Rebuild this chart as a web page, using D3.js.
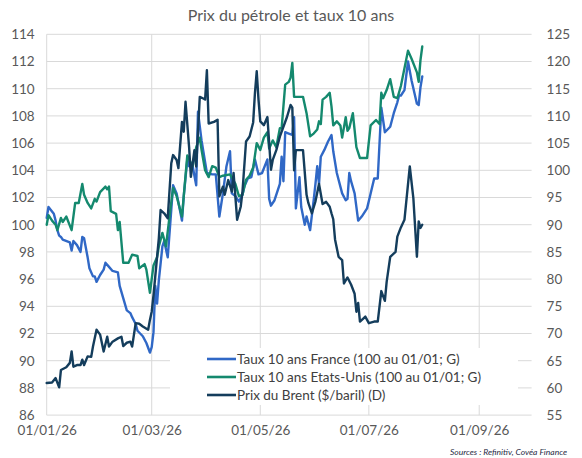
<!DOCTYPE html>
<html>
<head>
<meta charset="utf-8">
<script src="https://cdn.jsdelivr.net/npm/d3@7"></script>
<style>
  body { margin: 0; background: #fff; }
  svg { display: block; font-family: Lato, "Open Sans", sans-serif; }
</style>
</head>
<body>
<svg id="chart" width="582" height="458"></svg>
<script>
// ---- data (dd/mm, 2026) ----
var france = [
  ["01/01",100.5],["02/01",101.3],["05/01",100.8],["06/01",100.3],["07/01",99.6],["08/01",99.2],
  ["09/01",99.1],["10/01",98.9],["14/01",98.7],["15/01",98.1],["16/01",98.8],["18/01",98.5],
  ["20/01",98.0],["21/01",99.1],["22/01",99.0],["24/01",97.6],["25/01",96.8],["27/01",96.2],
  ["28/01",96.2],["29/01",95.8],["31/01",96.3],["02/02",96.7],["03/02",97.2],["05/02",96.9],
  ["07/02",96.6],["10/02",96.5],["11/02",95.5],["13/02",94.6],["15/02",93.7],["17/02",93.5],
  ["18/02",93.2],["20/02",92.7],["21/02",92.2],["24/02",91.8],["26/02",91.3],["28/02",90.6],
  ["01/03",91.0],["02/03",92.1],["03/03",95.5],["04/03",94.2],["05/03",95.9],["07/03",98.4],
  ["08/03",98.8],["10/03",97.6],["12/03",101.1],["13/03",102.9],["15/03",102.3],["18/03",100.3],
  ["19/03",102.1],["21/03",104.8],["22/03",104.3],["24/03",104.3],["26/03",102.9],["27/03",108.3],
  ["29/03",106.2],["01/04",103.8],["04/04",103.7],["06/04",103.7],["08/04",100.6],["10/04",102.3],
  ["12/04",104.3],["14/04",105.4],["15/04",102.3],["17/04",102.1],["19/04",101.7],["21/04",102.2],
  ["22/04",102.8],["24/04",103.4],["26/04",103.5],["28/04",104.8],["30/04",103.7],["02/05",103.8],
  ["05/05",104.8],["06/05",101.9],["07/05",101.4],["09/05",101.8],["12/05",103.0],["13/05",105.0],
  ["14/05",103.2],["15/05",106.8],["17/05",106.7],["19/05",106.6],["20/05",107.9],["21/05",101.2],
  ["23/05",103.5],["24/05",101.3],["26/05",100.0],["27/05",100.6],["29/05",99.6],["31/05",101.8],
  ["01/06",103.0],["02/06",104.3],["03/06",103.0],["04/06",105.0],["06/06",105.5],["08/06",106.1],
  ["10/06",106.6],["11/06",105.4],["13/06",103.8],["16/06",102.3],["18/06",101.8],["19/06",101.9],
  ["20/06",103.8],["21/06",103.2],["23/06",102.3],["25/06",100.3],["27/06",100.6],["30/06",101.2],
  ["02/07",102.3],["04/07",103.4],["06/07",103.4],["08/07",108.6],["10/07",106.8],["13/07",107.2],
  ["15/07",108.2],["17/07",109.0],["18/07",109.5],["19/07",109.5],["21/07",109.9],["23/07",112.0],
  ["25/07",110.6],["28/07",108.9],["29/07",108.8],["30/07",110.1],["31/07",110.9]
];

var etatsUnis = [
  ["01/01",100.0],["02/01",100.7],["04/01",100.3],["06/01",100.0],["07/01",99.6],["09/01",100.5],
  ["10/01",100.2],["12/01",100.6],["15/01",99.6],["17/01",101.6],["19/01",101.6],["21/01",103.0],
  ["22/01",102.2],["24/01",101.6],["26/01",101.2],["28/01",101.9],["29/01",101.7],["31/01",102.4],
  ["03/02",102.8],["04/02",102.6],["05/02",102.8],["06/02",101.0],["09/02",100.8],["10/02",99.6],
  ["11/02",100.2],["13/02",97.2],["16/02",97.2],["18/02",97.8],["21/02",97.7],["22/02",96.8],
  ["25/02",97.1],["26/02",96.7],["28/02",95.0],["02/03",97.0],["04/03",97.6],["05/03",98.4],
  ["07/03",99.4],["08/03",98.9],["09/03",98.4],["11/03",100.6],["13/03",102.7],["15/03",102.1],
  ["18/03",100.6],["19/03",102.1],["21/03",105.1],["22/03",104.8],["24/03",104.3],["26/03",105.7],
  ["28/03",106.4],["29/03",105.5],["31/03",104.0],["02/04",103.5],["04/04",104.3],["06/04",104.2],
  ["08/04",103.5],["10/04",103.6],["14/04",103.7],["17/04",103.0],["19/04",102.1],["21/04",102.2],
  ["23/04",103.3],["25/04",103.6],["27/04",104.2],["29/04",106.0],["01/05",105.5],["03/05",106.4],
  ["05/05",106.8],["06/05",105.6],["08/05",106.2],["10/05",105.7],["12/05",107.1],["13/05",107.1],
  ["15/05",110.3],["17/05",110.5],["18/05",110.8],["19/05",111.9],["20/05",109.4],["22/05",109.4],
  ["25/05",109.4],["27/05",108.2],["29/05",106.5],["31/05",106.7],["02/06",107.0],["03/06",107.6],
  ["04/06",107.4],["05/06",109.2],["07/06",109.4],["09/06",109.7],["10/06",108.7],["11/06",107.3],
  ["13/06",107.6],["15/06",107.3],["16/06",106.4],["18/06",107.9],["19/06",106.9],["20/06",107.1],
  ["22/06",108.2],["24/06",105.7],["26/06",104.9],["30/06",104.9],["02/07",107.3],["05/07",107.7],
  ["07/07",107.4],["08/07",109.7],["09/07",109.3],["11/07",109.9],["13/07",110.7],["15/07",109.4],
  ["17/07",109.3],["19/07",110.2],["23/07",112.8],["25/07",112.2],["28/07",111.2],["29/07",110.5],
  ["30/07",112.1],["31/07",113.1]
];

var brent = [
  ["01/01",60.9],["04/01",61.0],["06/01",61.8],["08/01",60.1],["09/01",63.3],["12/01",63.8],
  ["14/01",64.6],["15/01",66.7],["16/01",63.9],["18/01",64.2],["20/01",64.2],["21/01",65.2],
  ["22/01",64.2],["24/01",65.8],["26/01",65.7],["27/01",67.6],["29/01",70.7],["31/01",69.8],
  ["02/02",66.7],["04/02",69.4],["05/02",67.6],["07/02",68.5],["10/02",69.1],["12/02",69.4],
  ["13/02",67.7],["15/02",68.3],["17/02",68.5],["18/02",67.6],["20/02",71.9],["22/02",71.8],
  ["24/02",71.3],["27/02",70.7],["28/02",72.5],["01/03",74.0],["02/03",77.0],["03/03",80.5],
  ["04/03",84.0],["05/03",87.5],["06/03",92.7],["08/03",92.1],["10/03",91.2],["12/03",101.3],
  ["13/03",102.8],["15/03",101.9],["16/03",100.4],["18/03",108.9],["19/03",107.1],["20/03",112.6],
  ["22/03",104.3],["23/03",98.8],["25/03",103.7],["26/03",100.7],["28/03",113.5],["30/03",113.2],
  ["31/03",113.0],["01/04",118.4],["02/04",108.6],["05/04",108.9],["07/04",109.3],["08/04",95.2],
  ["10/04",97.0],["11/04",95.5],["13/04",98.2],["15/04",96.1],["16/04",99.5],["18/04",90.9],
  ["20/04",93.3],["21/04",96.1],["23/04",105.3],["25/04",106.2],["27/04",108.8],["28/04",114.2],
  ["29/04",118.2],["30/04",113.0],["01/05",109.0],["03/05",108.3],["05/05",109.8],["06/05",105.0],
  ["07/05",100.1],["08/05",101.9],["10/05",103.7],["12/05",106.2],["14/05",108.0],["16/05",109.8],
  ["18/05",112.0],["19/05",111.5],["20/05",100.0],["21/05",103.7],["25/05",103.7],["27/05",95.5],
  ["28/05",94.0],["30/05",92.1],["01/06",94.3],["03/06",97.5],["05/06",93.8],["07/06",94.2],
  ["09/06",93.3],["10/06",92.1],["11/06",91.0],["12/06",87.3],["14/06",84.1],["16/06",83.5],
  ["17/06",79.2],["19/06",80.3],["21/06",79.0],["23/06",77.3],["24/06",74.0],["25/06",75.6],
  ["26/06",72.2],["28/06",72.8],["29/06",73.1],["01/07",71.9],["04/07",72.2],["06/07",72.2],
  ["08/07",77.8],["10/07",76.0],["11/07",79.5],["13/07",84.1],["16/07",85.0],["17/07",87.8],
  ["19/07",89.5],["21/07",90.9],["24/07",100.7],["26/07",94.9],["28/07",84.1],["29/07",90.6],
  ["30/07",89.4],["31/07",90.0]
];

var leftTicks = d3.range(86, 115, 2);
var rightTicks = d3.range(55, 126, 5);
var xTickDates = ["01/01","01/03","01/05","01/07","01/09"];
var legendLabels = [
  "Taux 10 ans France (100 au 01/01; G)",
  "Taux 10 ans Etats-Unis (100 au 01/01; G)",
  "Prix du Brent ($/baril) (D)"
];

// ---- rendering ----
var parseDay = (s) => d3.timeParse("%d/%m/%Y")(s + "/2026"),
    svg = d3.select("#chart"),
    plotLeft = 46.7, plotRight = 532.6, plotTop = 34.3, plotBottom = 415.1,
    textColor = "#595959",
    gridColor = "#d9d9d9",
    colors = ["#3068c6", "#14896e", "#143d5c"];

var x = d3.scaleTime()
        .domain([parseDay("01/01"), parseDay("01/10")])
        .range([plotLeft, plotRight]),
    yLeft = d3.scaleLinear().domain([86, 114]).range([plotBottom, plotTop]),
    yRight = d3.scaleLinear().domain([55, 125]).range([plotBottom, plotTop]);

// title
svg.append("text")
    .attr("x", 291)
    .attr("y", 21)
    .attr("text-anchor", "middle")
    .attr("font-size", 16)
    .attr("fill", textColor)
    .text("Prix du pétrole et taux 10 ans");

// horizontal grid
svg.append("g")
    .selectAll("line")
    .data(leftTicks)
    .enter()
    .append("line")
    .attr("x1", plotLeft)
    .attr("x2", plotRight - 1)
    .attr("y1", (d) => yLeft(d))
    .attr("y2", (d) => yLeft(d))
    .attr("stroke", gridColor)
    .attr("stroke-width", 1);

// vertical grid
svg.append("g")
    .selectAll("line")
    .data(xTickDates.map(parseDay))
    .enter()
    .append("line")
    .attr("x1", (d) => x(d))
    .attr("x2", (d) => x(d))
    .attr("y1", plotTop)
    .attr("y2", plotBottom)
    .attr("stroke", gridColor)
    .attr("stroke-width", 1);

// axes (labels only)
var axisLeft = svg.append("g")
    .attr("transform", `translate(${plotLeft},0)`)
    .call(d3.axisLeft(yLeft).tickValues(leftTicks).tickSize(0).tickPadding(12));

var axisRight = svg.append("g")
    .attr("transform", `translate(${plotRight},0)`)
    .call(d3.axisRight(yRight).tickValues(rightTicks).tickSize(0).tickPadding(14));

var axisBottom = svg.append("g")
    .attr("transform", `translate(0,${plotBottom})`)
    .call(d3.axisBottom(x)
        .tickValues(xTickDates.map(parseDay))
        .tickFormat(d3.timeFormat("%d/%m/%y"))
        .tickSize(0)
        .tickPadding(10));

[axisLeft, axisRight, axisBottom].forEach((g) => {
    g.select(".domain").remove();
    g.selectAll("text")
        .attr("font-size", 13.5)
        .attr("font-family", "Lato, sans-serif")
        .attr("fill", textColor);
});

// lines
var lineLeft = d3.line()
        .x((d) => x(parseDay(d[0])))
        .y((d) => yLeft(d[1])),
    lineRight = d3.line()
        .x((d) => x(parseDay(d[0])))
        .y((d) => yRight(d[1]));

var series = [
    { data: france, line: lineLeft },
    { data: etatsUnis, line: lineLeft },
    { data: brent, line: lineRight }
];

svg.append("g")
    .selectAll("path")
    .data(series)
    .enter()
    .append("path")
    .attr("d", (s) => s.line(s.data))
    .attr("fill", "none")
    .attr("stroke", (s, i) => colors[i])
    .attr("stroke-width", 2.4)
    .attr("stroke-linejoin", "round")
    .attr("stroke-linecap", "round");

// legend
var legend = svg.append("g");
legend.append("rect")
    .attr("x", 170)
    .attr("y", 348)
    .attr("width", 348)
    .attr("height", 57)
    .attr("fill", "#fff");

var items = legend.selectAll("g")
    .data(legendLabels)
    .enter()
    .append("g")
    .attr("transform", (d, i) => `translate(0,${359 + i * 18})`);

items.append("line")
    .attr("x1", 207)
    .attr("x2", 236)
    .attr("stroke", (d, i) => colors[i])
    .attr("stroke-width", 2.6);

items.append("text")
    .attr("x", 237)
    .attr("dy", "0.35em")
    .attr("font-size", 13.5)
    .attr("fill", "#404040")
    .text((d) => d);

// source
svg.append("text")
    .attr("x", 567)
    .attr("y", 455)
    .attr("text-anchor", "end")
    .attr("font-size", 8.5)
    .attr("font-style", "italic")
    .attr("fill", "#1f2a44")
    .text("Sources : Refinitiv, Covéa Finance");
</script>
</body>
</html>
